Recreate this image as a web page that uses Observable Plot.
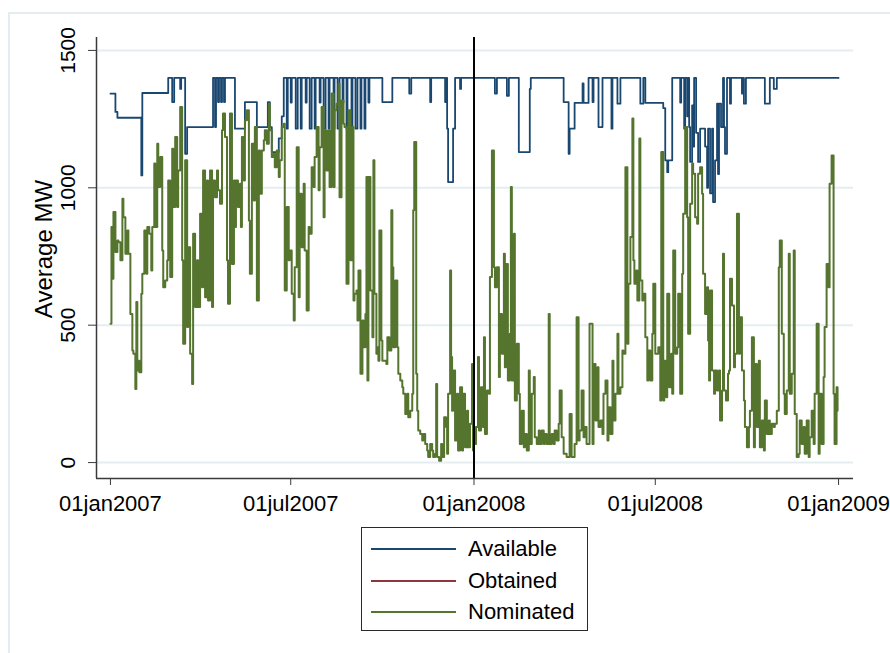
<!DOCTYPE html>
<html>
<head>
<meta charset="utf-8">
<script src="https://cdn.jsdelivr.net/npm/d3@7"></script>
<script src="https://cdn.jsdelivr.net/npm/@observablehq/plot@0.6"></script>
<style>
  html, body { margin: 0; padding: 0; background: #fff; }
  body { font-family: "Liberation Sans", Arial, sans-serif; }
  #wrap { position: relative; width: 890px; height: 653px; overflow: hidden; background: #fff; }
  #border { position: absolute; left: 8px; top: 12px; width: 950px; height: 700px;
            border-top: 2px solid #e3ecef; border-left: 2px solid #e3ecef; }
  #chart { position: absolute; left: 0; top: 0; }
  #legend { position: absolute; left: 361px; top: 527px; width: 225px; height: 102px;
            border: 1.5px solid #2a2a2a; background: #fff; }
  .row { position: absolute; left: 0; height: 30px; width: 225px; }
  .swatch { position: absolute; left: 9px; top: 14px; width: 85px; height: 2px; }
  .lab { position: absolute; left: 106px; top: 0; line-height: 30px; font-size: 22px; color: #000; white-space: nowrap; }
</style>
</head>
<body>
<div id="wrap">
  <div id="border"></div>
  <div id="chart"></div>
  <div id="legend"></div>
</div>
<script>
// ---------- data ----------
const seriesNames  = ["Available", "Obtained", "Nominated"];
const seriesColors = ["#1a476f", "#90353b", "#55752f"];
const yTicks = [0, 500, 1000, 1500];
const xTickDates  = ["2007-01-01", "2007-07-01", "2008-01-01", "2008-07-01", "2009-01-01"];
const xTickLabels = ["01jan2007", "01jul2007", "01jan2008", "01jul2008", "01jan2009"];
const markerDate = "2008-01-01";
const startDate = "2007-01-01";
const yTitle = "Average MW";

// Available capacity: change points (days since 01jan2007) and level from that day on
const availDays = [0,5,7,31,32,58,62,64,70,71,75,77,103,105,106,108,109,111,112,114,115,125,135,147,158,160,162,169,172,
  174,177,178,181,182,186,188,191,192,196,197,200,202,205,206,210,211,214,216,219,220,224,225,228,230,233,234,237,238,242,243,246,248,251,252,255,256,259,260,
  273,283,300,302,321,322,336,337,338,339,344,346,351,352,
  386,388,398,400,410,421,422,455,460,461,466,474,475,480,
  484,485,490,494,503,504,509,512,532,535,537,555,557,559,560,564,
  572,573,576,577,579,580,581,582,584,585,586,588,590,592,597,599,600,602,604,605,607,609,610,611,613,615,616,617,619,622,623,634,635,636,638,657,662,666,669,731];
const availValues = [1343,1276,1255,1045,1345,1400,1312,1400,1360,1400,1124,1221,1400,1221,1400,1312,1400,1312,1400,1312,1400,1215,1312,1221,1312,1221,1130,1180,1260,
  1400,1215,1400,1310,1400,1215,1400,1215,1400,1310,1400,1215,1400,1215,1400,1310,1400,1215,1400,1215,1400,1215,1400,1215,1400,1310,1400,1215,1400,1215,1400,1215,1400,1215,1400,1215,1400,1310,1400,
  1312,1400,1343,1400,1312,1400,1312,1400,1215,1021,1215,1400,1360,1400,
  1343,1400,1335,1400,1130,1360,1400,1312,1124,1215,1309,1380,1309,1400,
  1312,1400,1221,1400,1215,1400,1306,1400,1306,1400,1309,1290,1100,1057,1100,1400,
  1310,1400,1215,1400,1260,1400,1221,1094,1300,1150,1400,1200,1094,1215,1150,1000,1215,980,1215,948,1100,1306,1050,1306,1221,1400,1221,1124,1400,1306,1400,1343,1400,1306,1400,1306,1400,1360,1400,1400];

// Nominated: days since 01jan2007 and average MW
const nomDays = [0,1,2,3,5,7,8,10,12,13,15,17,18,20,22,23,25,26,27,28,29,31,32,34,36,37,39,41,42,44,45,47,48,50,52,53,55,57,58,60,62,63,65,67,68,70,72,73,75,77,78,80,82,83,85,87,88,90,92,93,95,97,98,100,102,103,105,107,108,110,112,113,115,117,
  118,120,122,124,125,126,128,130,131,132,134,135,137,139,140,142,144,145,147,149,150,152,154,155,157,159,160,162,164,165,167,169,170,172,174,175,177,179,180,182,184,185,187,189,190,192,194,195,197,199,200,202,204,205,207,209,210,212,214,215,217,219,220,222,224,225,227,229,230,232,234,235,237,
  239,241,243,244,245,247,248,249,251,253,254,256,257,258,259,261,263,264,265,267,268,269,270,272,273,275,277,278,280,282,283,284,286,288,289,291,293,294,296,298,299,301,303,304,305,307,308,309,311,313,314,316,318,319,321,323,324,326,327,328,330,332,333,335,337,338,339,341,342,343,344,346,348,349,351,353,354,356,358,359,
  361,363,364,365,367,369,370,372,374,375,376,378,380,381,383,385,386,388,390,391,393,395,396,397,399,401,402,403,405,406,408,410,411,413,415,416,418,420,421,423,425,426,428,430,431,433,435,436,438,440,441,443,445,446,448,450,451,453,455,458,461,463,465,466,468,470,471,473,475,476,478,481,
  484,485,487,489,490,492,494,495,497,499,500,502,504,505,507,509,510,512,514,515,517,519,520,522,524,525,526,528,529,531,532,534,535,537,539,540,542,544,545,547,549,550,552,553,555,556,558,559,561,563,564,565,567,569,570,572,574,575,577,579,580,582,584,585,587,589,590,592,594,595,597,599,600,601,
  602,604,606,607,609,611,612,614,615,616,618,620,621,622,624,626,627,629,631,632,634,636,637,639,641,642,644,646,647,649,651,652,654,656,657,659,661,662,664,666,667,669,671,672,674,676,677,679,681,682,684,686,687,689,691,692,694,696,697,699,701,702,704,706,707,709,711,712,714,716,717,719,721,722,724,726,727,729,730];
const nomValues = [505,857,669,912,766,808,802,736,960,893,760,845,760,541,408,396,268,584,335,371,329,614,687,845,687,857,833,699,857,1088,857,1160,1003,1112,772,638,663,736,1027,675,1142,930,1185,930,1063,1294,736,432,1100,493,784,396,286,833,566,736,566,906,638,1063,602,1027,590,1063,566,1027,966,1063,991,942,1209,1270,1185,736,
  578,1270,723,1027,857,1027,930,1015,857,1185,1027,1246,1282,881,687,1160,954,1221,590,1136,978,1136,1173,1209,1160,1306,1209,1112,1124,1075,1136,1039,1100,1221,1233,626,930,736,772,614,517,711,1148,602,978,784,1015,772,553,857,833,1075,1003,1112,1221,991,1148,1294,893,1209,1063,1209,1003,1343,1003,1282,1306,1379,966,1318,1233,1221,651,
  1282,736,1221,590,614,626,517,699,323,517,420,541,1039,299,1039,626,456,1100,614,396,420,371,845,444,371,371,359,456,408,918,711,420,663,420,323,299,274,250,177,250,165,189,250,918,1167,323,189,117,104,80,104,68,44,20,68,44,20,32,286,20,7,68,20,165,129,32,250,699,384,189,335,80,250,44,274,44,250,56,189,56,
  141,359,44,68,129,384,117,274,129,456,104,262,250,675,1136,711,638,711,311,541,396,760,347,723,299,469,1003,299,833,226,432,250,68,189,56,104,44,335,68,250,311,92,68,117,68,117,68,104,68,541,68,104,68,117,80,141,262,92,32,20,177,20,20,68,529,80,117,262,92,129,68,505,
  68,359,153,347,129,153,104,250,299,80,201,104,371,153,250,469,250,274,408,396,1075,432,651,821,1252,736,651,699,590,1179,663,590,614,456,299,408,299,469,651,396,396,420,226,1130,226,371,238,614,274,396,250,772,396,420,614,250,687,906,1221,893,469,942,1088,1051,893,869,1051,1075,978,687,541,638,444,299,
  626,335,250,335,262,335,153,262,760,262,226,323,335,669,572,347,396,906,396,529,335,226,129,56,129,189,456,56,359,129,371,56,153,44,226,104,153,104,141,129,141,189,711,808,469,250,177,262,760,250,323,772,177,20,32,153,68,129,32,153,20,92,189,68,250,505,32,250,68,311,493,723,638,1015,1118,250,68,274,189];

// ---------- build ----------
const day0 = Date.parse(startDate);
const toDate = d => new Date(day0 + d * 864e5);
const avail = availDays.map((d, i) => ({date: toDate(d), value: availValues[i]}));
const nom = nomDays.map((d, i) => ({date: toDate(d), value: nomValues[i]}));
const xTicks = xTickDates.map(s => new Date(Date.parse(s)));
const xTickTimes = xTicks.map(d => +d);

// scale extents with Stata-like padding around the data range
const xDomain = [new Date(Date.UTC(2006, 11, 18)), new Date(Date.UTC(2009, 0, 16))];
const yDomain = [-58, 1547];

const chart = Plot.plot({
  width: 890,
  height: 520,
  marginLeft: 96,
  marginRight: 37,
  marginTop: 37,
  marginBottom: 42,
  style: {fontFamily: "'Liberation Sans', Arial, sans-serif", background: "transparent", overflow: "visible", color: "#000"},
  x: {type: "utc", domain: xDomain, axis: null},
  y: {domain: yDomain, axis: null},
  marks: [
    Plot.ruleY(yTicks, {stroke: "#e4edf0", strokeWidth: 2}),
    Plot.line(avail, {x: "date", y: "value", curve: "step-after", stroke: seriesColors[0], strokeWidth: 1.8}),
    Plot.line(nom, {x: "date", y: "value", curve: "step-after", stroke: seriesColors[2], strokeWidth: 2}),
    Plot.ruleX([new Date(Date.parse(markerDate))], {stroke: "#000", strokeWidth: 2}),
    Plot.ruleX([xDomain[0]], {stroke: "#3a3a3a", strokeWidth: 1.5}),
    Plot.ruleY([yDomain[0]], {stroke: "#3a3a3a", strokeWidth: 1.5}),
    Plot.axisY(yTicks, {tickSize: 8, tickFormat: () => "", label: null, stroke: "#3a3a3a"}),
    Plot.text(yTicks, {y: d => d, text: d => String(d), frameAnchor: "left", dx: -28, rotate: -90,
                       fontSize: 21, lineAnchor: "middle", textAnchor: "middle", fill: "#000"}),
    Plot.axisX(xTicks, {tickSize: 7, tickPadding: 10, fontSize: 22, label: null, stroke: "#3a3a3a", fill: "#000",
                        tickFormat: d => xTickLabels[xTickTimes.indexOf(+d)]}),
    Plot.text([yTitle], {frameAnchor: "left", dx: -52, dy: -9, rotate: -90, fontSize: 24,
                         lineAnchor: "middle", textAnchor: "middle", fill: "#000"})
  ]
});
document.getElementById("chart").appendChild(chart);

// legend
const legend = document.getElementById("legend");
seriesNames.forEach((name, i) => {
  const row = document.createElement("div");
  row.className = "row";
  row.style.top = (6 + i * 31.5) + "px";
  const sw = document.createElement("div");
  sw.className = "swatch";
  sw.style.background = seriesColors[i];
  const lab = document.createElement("div");
  lab.className = "lab";
  lab.textContent = name;
  row.appendChild(sw);
  row.appendChild(lab);
  legend.appendChild(row);
});
</script>
</body>
</html>
